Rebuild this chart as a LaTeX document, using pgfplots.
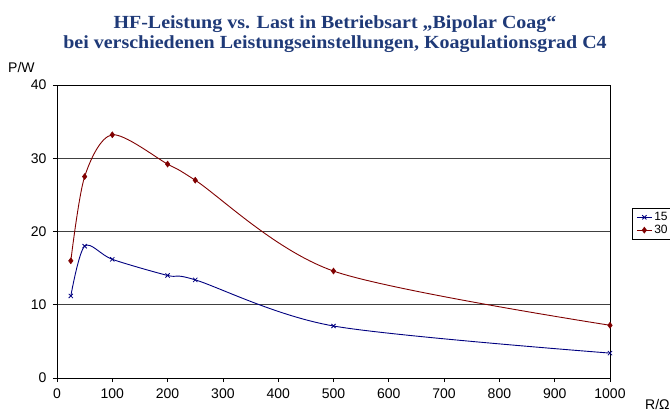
\documentclass[border=0pt]{standalone}
\usepackage{pgfplots}
\pgfplotsset{compat=1.18}
\usepackage{fontspec}
\setmainfont{Liberation Sans}
\newfontfamily\titlefont{Liberation Serif}
\definecolor{titleblue}{RGB}{31,58,120}
\definecolor{sblue}{RGB}{0,0,128}
\definecolor{sred}{RGB}{128,0,0}
\begin{document}
\begin{tikzpicture}
\path[use as bounding box] (0pt,0pt) rectangle (670pt,-412pt);
\clip (0pt,0pt) rectangle (670pt,-412pt);
\begin{axis}[
  at={(57pt,-378pt)}, anchor=south west,
  scale only axis, width=553pt, height=293pt,
  xmin=0, xmax=1000, ymin=0, ymax=40,
  xtick={0,100,...,1000}, ytick={0,10,...,40},
  ymajorgrids, grid style={black!75, line width=0.8pt},
  axis line style={black, line width=0.8pt},
  tick align=outside, xtick pos=bottom, ytick pos=left,
  major tick length=4pt,
  tick style={black, line width=0.8pt},
  ticklabel style={font=\fontsize{14}{16}\selectfont},
  /pgf/number format/assume math mode=true,
  /pgf/number format/1000 sep={},
  x tick label style={yshift=-3pt},
  y tick label style={xshift=-3pt},
  legend style={at={(axis description cs:1.0398,0.580)}, anchor=north west,
    draw=black, line width=0.8pt, font=\fontsize{12}{12}\selectfont,
    inner xsep=4pt, inner ysep=2pt, row sep=-1pt, cells={anchor=west}},
  legend cell align=left,
  legend image code/.code={\draw[#1,mark repeat=2,mark phase=2]
    plot coordinates {(0pt,0pt)(7.5pt,0pt)(15pt,0pt)};},
]
\addplot[sblue, line width=0.9pt, smooth, tension=0.5, mark=x, mark size=3pt,
  mark options={line width=0.8pt}]
  coordinates {(25,11.2)(50,18.0)(100,16.2)(200,14.0)(250,13.4)(500,7.1)(1000,3.4)};
\addlegendentry{15}
\addplot[sred, line width=0.9pt, smooth, tension=0.5, mark=diamond*, mark size=3pt,
  mark options={line width=0.5pt}]
  coordinates {(25,16.0)(50,27.5)(100,33.2)(200,29.2)(250,27.0)(500,14.6)(1000,7.2)};
\addlegendentry{30}
\end{axis}
\node[anchor=base, font=\titlefont\bfseries\fontsize{18.5}{20}\selectfont, text=titleblue]
  at (335pt,-29pt) {\scalebox{1.08}[1]{HF-Leistung vs. Last in Betriebsart „Bipolar Coag“}};
\node[anchor=base, font=\titlefont\bfseries\fontsize{18.5}{20}\selectfont, text=titleblue]
  at (335pt,-49pt) {\scalebox{1.08}[1]{bei verschiedenen Leistungseinstellungen, Koagulationsgrad C4}};
\node[anchor=base west, font=\fontsize{14}{16}\selectfont, inner sep=0pt] at (8pt,-73pt) {P/W};
\node[anchor=base west, font=\fontsize{14}{16}\selectfont, inner sep=0pt] at (645pt,-409pt) {R/Ω};
\end{tikzpicture}
\end{document}
